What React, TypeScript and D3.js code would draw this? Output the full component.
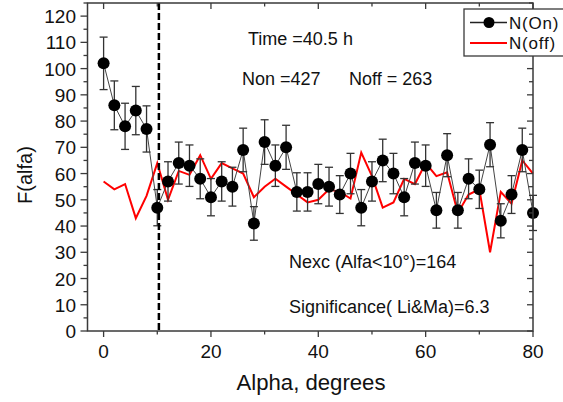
import React from "react";
import * as d3 from "d3";

const angles = [0, 2, 4, 6, 8, 10, 12, 14, 16, 18, 20, 22, 24, 26, 28, 30, 32, 34, 36, 38, 40, 42, 44, 46, 48, 50, 52, 54, 56, 58, 60, 62, 64, 66, 68, 70, 72, 74, 76, 78, 80];
const onValues = [102, 86, 78, 84, 77, 47, 57, 64, 63, 58, 51, 57, 55, 69, 41, 72, 63, 70, 53, 53, 56, 55, 52, 60, 47, 57, 65, 60, 51, 64, 63, 46, 67, 46, 58, 54, 71, 42, 52, 69, 45];
const onErrors = [10, 9.3, 8.8, 9.2, 8.8, 6.9, 7.5, 8, 7.9, 7.6, 7.1, 7.5, 7.4, 8.3, 6.4, 8.5, 7.9, 8.4, 7.3, 7.3, 7.5, 7.4, 7.2, 7.7, 6.9, 7.5, 8.1, 7.7, 7.1, 8, 7.9, 6.8, 8.2, 6.8, 7.6, 7.3, 8.4, 6.5, 7.2, 8.3, 6.7];
const offValues = [57, 54, 56, 43, 51.5, 64, 50, 61, 59.5, 67, 58, 64, 62, 60, 51, 55, 58, 55, 52, 49, 50, 54, 53, 50.5, 68, 59, 47, 49, 58, 56, 64, 59, 60.5, 45, 52, 54, 30, 53, 48.5, 65, 60];
const xTicks = [0, 20, 40, 60, 80];
const xMinorTicks = [10, 30, 50, 70];
const yTicks = [0, 10, 20, 30, 40, 50, 60, 70, 80, 90, 100, 110, 120];
const yMinorTicks = [5, 15, 25, 35, 45, 55, 65, 75, 85, 95, 105, 115, 125];
const cutAngle = 10.3;
const legendLabels = ["N(On)", "N(off)"];
const annotations = [
  { text: "Time =40.5 h", x: 248, y: 45 },
  { text: "Non =427", x: 242, y: 85 },
  { text: "Noff = 263", x: 349, y: 85 },
  { text: "Nexc (Alfa<10\u00B0)=164", x: 289, y: 268 },
  { text: "Significance( Li&Ma)=6.3", x: 289, y: 313 },
];

const FONT = "'Liberation Sans', Arial, sans-serif";

export default function App() {
  const W = 563, H = 402;
  const left = 87.5, right = 533, top = 3, bottom = 331;
  const x = d3.scaleLinear().domain([-3, 80]).range([left, right]);
  const y = d3.scaleLinear().domain([0, 125]).range([bottom, top]);
  const frame = "#3a3a3a";

  const onLine = d3.line<number>().x((_, i) => x(angles[i])).y((v) => y(v))(onValues) || "";
  const offLine = d3.line<number>().x((_, i) => x(angles[i])).y((v) => y(v))(offValues) || "";

  return (
    <svg width={W} height={H} style={{ position: "absolute", left: 0, top: 0, background: "#fff" }} fontFamily={FONT}>
      <rect x={0} y={0} width={W} height={H} fill="#fff" />
      {/* off line */}
      <path d={offLine} fill="none" stroke="#ff0000" strokeWidth={2} strokeLinejoin="miter" />
      {/* on connecting line */}
      <path d={onLine} fill="none" stroke="#444" strokeWidth={1} />
      {/* error bars */}
      {onValues.map((v, i) => {
        const cx = x(angles[i]);
        const e = onErrors[i];
        return (
          <g key={"e" + i} stroke="#333" strokeWidth={1.3}>
            <line x1={cx} x2={cx} y1={y(v + e)} y2={y(v - e)} />
            <line x1={cx - 4} x2={cx + 4} y1={y(v + e)} y2={y(v + e)} />
            <line x1={cx - 4} x2={cx + 4} y1={y(v - e)} y2={y(v - e)} />
          </g>
        );
      })}
      {onValues.map((v, i) => (
        <circle key={"p" + i} cx={x(angles[i])} cy={y(v)} r={6} fill="#000" />
      ))}
      {/* dashed cut line */}
      <line x1={x(cutAngle)} x2={x(cutAngle)} y1={top} y2={bottom} stroke="#000" strokeWidth={2.5} strokeDasharray="7,3" />
      {/* frame */}
      <rect x={left} y={top} width={right - left} height={bottom - top} fill="none" stroke={frame} strokeWidth={1.5} />
      {/* x ticks */}
      {xTicks.map((t) => (
        <g key={"xt" + t} stroke={frame} strokeWidth={1.3}>
          <line x1={x(t)} x2={x(t)} y1={bottom} y2={bottom + 6} />
          <line x1={x(t)} x2={x(t)} y1={top} y2={top + 6} />
        </g>
      ))}
      {xMinorTicks.map((t) => (
        <g key={"xm" + t} stroke={frame} strokeWidth={1.3}>
          <line x1={x(t)} x2={x(t)} y1={bottom} y2={bottom + 3.5} />
          <line x1={x(t)} x2={x(t)} y1={top} y2={top + 3.5} />
        </g>
      ))}
      {xTicks.map((t) => (
        <text key={"xl" + t} x={x(t)} y={358} fontSize={19} textAnchor="middle" fill="#111">
          {t}
        </text>
      ))}
      {/* y ticks */}
      {yTicks.map((t) => (
        <g key={"yt" + t} stroke={frame} strokeWidth={1.3}>
          <line x1={left - 7} x2={left} y1={y(t)} y2={y(t)} />
          <line x1={right - 6} x2={right} y1={y(t)} y2={y(t)} />
        </g>
      ))}
      {yMinorTicks.map((t) => (
        <g key={"ym" + t} stroke={frame} strokeWidth={1.3}>
          <line x1={left - 4} x2={left} y1={y(t)} y2={y(t)} />
          <line x1={right - 4} x2={right} y1={y(t)} y2={y(t)} />
        </g>
      ))}
      {yTicks.map((t) => (
        <text key={"yl" + t} x={76} y={y(t) + 7} fontSize={19} textAnchor="end" fill="#111">
          {t}
        </text>
      ))}
      {/* axis titles */}
      <text x={311} y={390} fontSize={22} textAnchor="middle" fill="#111" textLength={149} lengthAdjust="spacingAndGlyphs">
        Alpha, degrees
      </text>
      <text transform={`translate(32,175) rotate(-90)`} fontSize={20} textAnchor="middle" fill="#111">
        F(alfa)
      </text>
      {/* annotations */}
      {annotations.map((a, i) => (
        <text key={"a" + i} x={a.x} y={a.y} fontSize={18} fill="#111">
          {a.text}
        </text>
      ))}
      {/* legend */}
      <rect x={464} y={9} width={110} height={47} fill="#fff" stroke={frame} strokeWidth={1.3} />
      <line x1={470} x2={507} y1={22.5} y2={22.5} stroke="#222" strokeWidth={1.3} />
      <circle cx={489} cy={22.5} r={5.5} fill="#000" />
      <line x1={470} x2={507} y1={43} y2={43} stroke="#ff0000" strokeWidth={2} />
      <text x={509} y={28.5} fontSize={17} fill="#111" letterSpacing={0.8}>
        {legendLabels[0]}
      </text>
      <text x={509} y={49} fontSize={17} fill="#111" letterSpacing={0.8}>
        {legendLabels[1]}
      </text>
    </svg>
  );
}
